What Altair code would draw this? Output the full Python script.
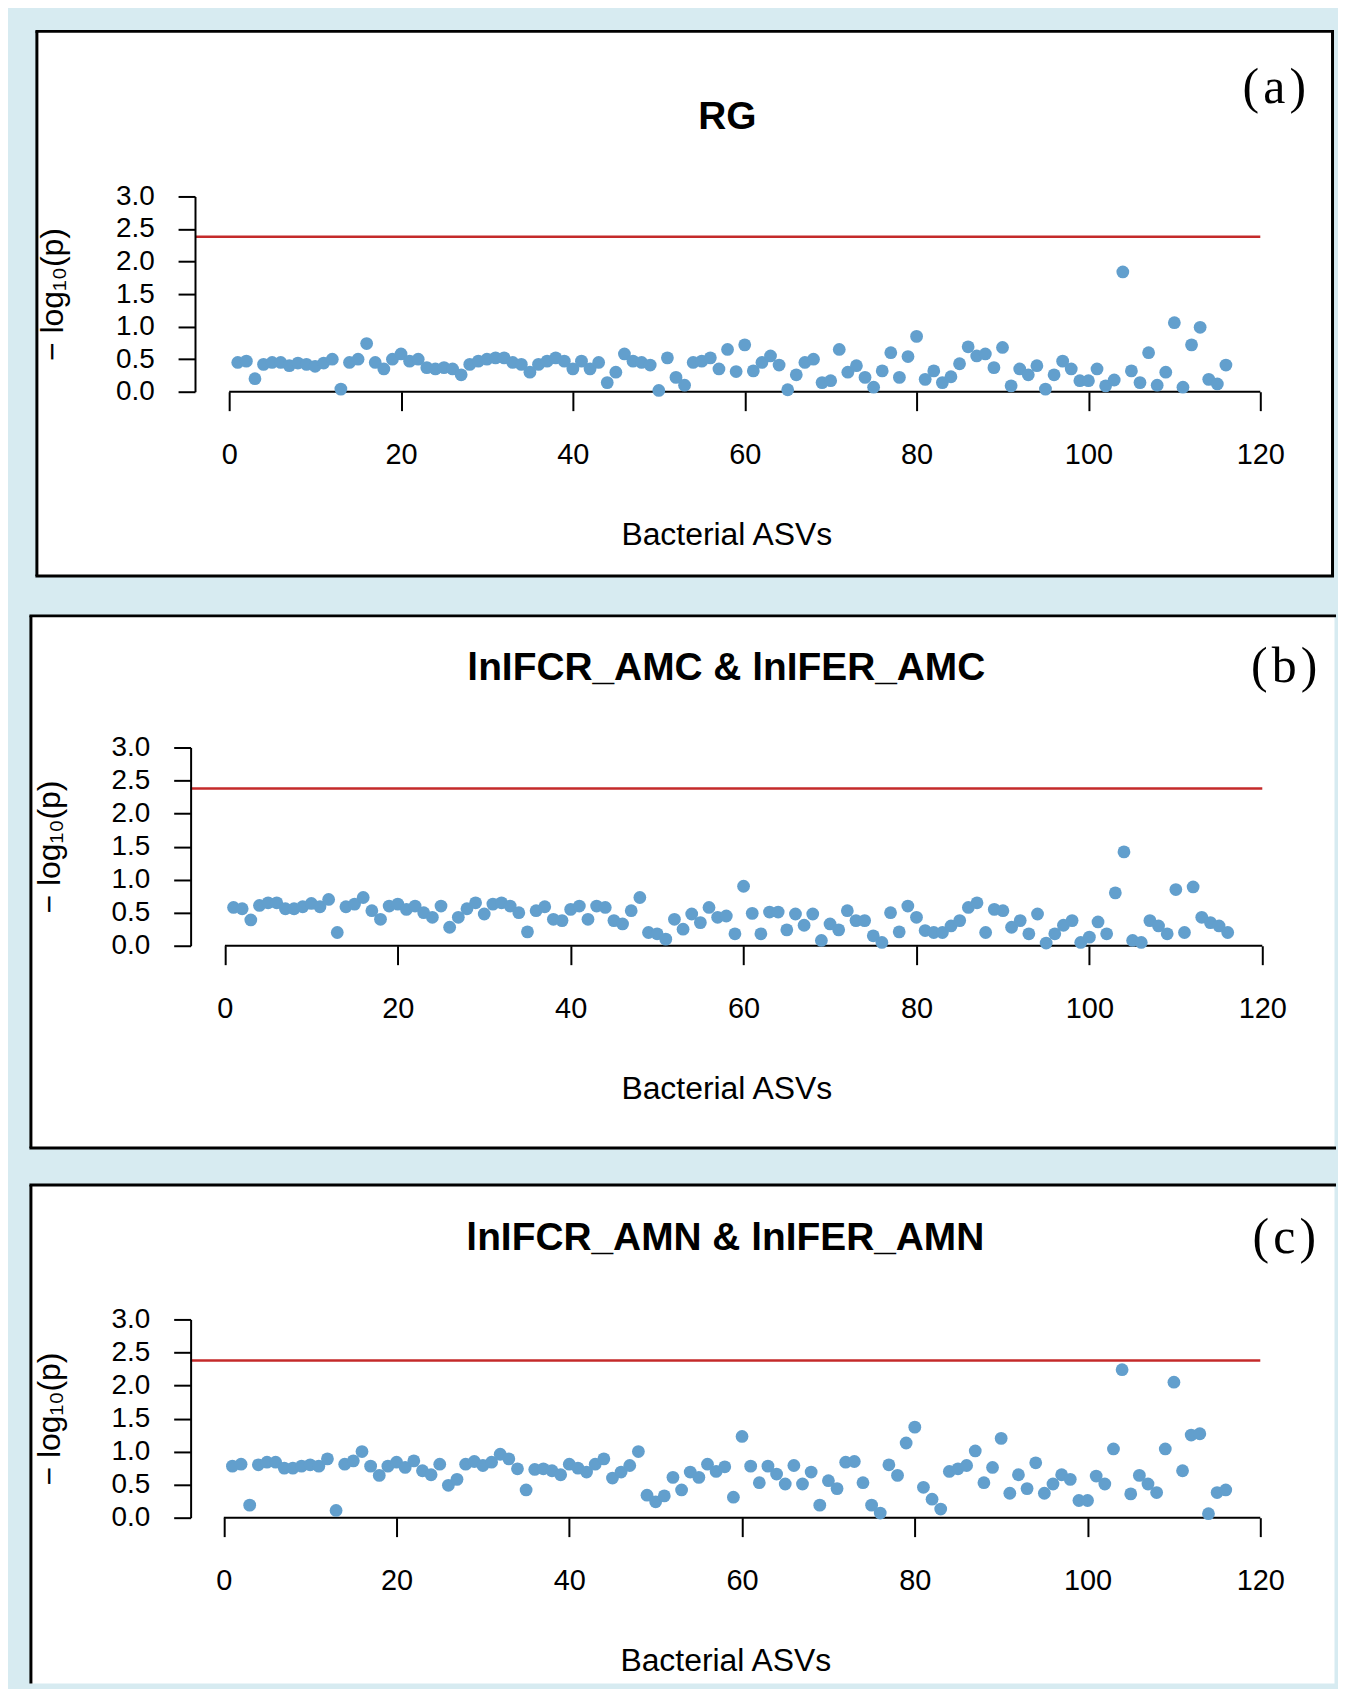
import altair as alt
import pandas as pd

# ---------------- data ----------------
asv_index = list(range(1, 117))

rg_values = [0.45, 0.47, 0.20, 0.42, 0.45, 0.45, 0.40, 0.44, 0.42, 0.39,
             0.44, 0.50, 0.04, 0.45, 0.50, 0.74, 0.45, 0.35, 0.50, 0.58,
             0.47, 0.50, 0.37, 0.35, 0.37, 0.35, 0.26, 0.42, 0.47, 0.50,
             0.52, 0.52, 0.45, 0.42, 0.30, 0.42, 0.47, 0.52, 0.47, 0.35,
             0.47, 0.35, 0.45, 0.14, 0.30, 0.58, 0.47, 0.45, 0.41, 0.02,
             0.52, 0.22, 0.10, 0.45, 0.47, 0.52, 0.35, 0.65, 0.31, 0.72,
             0.32, 0.45, 0.55, 0.41, 0.03, 0.26, 0.45, 0.50, 0.14, 0.17,
             0.65, 0.30, 0.40, 0.22, 0.07, 0.32, 0.60, 0.22, 0.54, 0.85,
             0.19, 0.32, 0.14, 0.23, 0.43, 0.69, 0.55, 0.58, 0.37, 0.68,
             0.09, 0.35, 0.26, 0.40, 0.04, 0.26, 0.47, 0.35, 0.17, 0.17,
             0.35, 0.09, 0.18, 1.84, 0.32, 0.14, 0.60, 0.10, 0.30, 1.06,
             0.07, 0.72, 0.99, 0.19, 0.12, 0.41]

amc_values = [0.58, 0.56, 0.39, 0.61, 0.65, 0.65, 0.56, 0.56, 0.59, 0.64,
              0.59, 0.70, 0.20, 0.59, 0.63, 0.73, 0.53, 0.40, 0.60, 0.63,
              0.55, 0.60, 0.50, 0.43, 0.60, 0.28, 0.43, 0.56, 0.65, 0.48,
              0.63, 0.65, 0.60, 0.50, 0.21, 0.53, 0.59, 0.40, 0.38, 0.55,
              0.60, 0.40, 0.60, 0.58, 0.38, 0.33, 0.53, 0.73, 0.20, 0.18,
              0.10, 0.40, 0.25, 0.48, 0.35, 0.58, 0.43, 0.45, 0.18, 0.90,
              0.49, 0.18, 0.51, 0.51, 0.24, 0.48, 0.31, 0.48, 0.08, 0.33,
              0.24, 0.53, 0.38, 0.38, 0.15, 0.05, 0.50, 0.21, 0.60, 0.43,
              0.23, 0.20, 0.20, 0.30, 0.38, 0.58, 0.65, 0.20, 0.55, 0.53,
              0.28, 0.38, 0.18, 0.48, 0.04, 0.18, 0.31, 0.38, 0.05, 0.13,
              0.36, 0.18, 0.80, 1.42, 0.08, 0.05, 0.38, 0.30, 0.18, 0.85,
              0.20, 0.89, 0.43, 0.35, 0.30, 0.20]

amn_values = [0.78, 0.81, 0.19, 0.80, 0.84, 0.84, 0.75, 0.75, 0.78, 0.80,
              0.78, 0.89, 0.11, 0.81, 0.86, 1.00, 0.78, 0.64, 0.78, 0.84,
              0.76, 0.86, 0.71, 0.65, 0.81, 0.49, 0.58, 0.81, 0.85, 0.79,
              0.84, 0.96, 0.89, 0.74, 0.42, 0.73, 0.74, 0.71, 0.65, 0.81,
              0.75, 0.69, 0.81, 0.89, 0.60, 0.69, 0.79, 1.00, 0.34, 0.24,
              0.33, 0.61, 0.42, 0.69, 0.61, 0.81, 0.70, 0.77, 0.31, 1.23,
              0.78, 0.53, 0.78, 0.66, 0.51, 0.79, 0.51, 0.69, 0.19, 0.56,
              0.44, 0.84, 0.85, 0.53, 0.19, 0.07, 0.80, 0.64, 1.13, 1.37,
              0.46, 0.28, 0.13, 0.70, 0.74, 0.79, 1.01, 0.53, 0.76, 1.20,
              0.37, 0.65, 0.44, 0.83, 0.37, 0.51, 0.65, 0.58, 0.26, 0.26,
              0.63, 0.51, 1.04, 2.24, 0.36, 0.64, 0.51, 0.38, 1.04, 2.05,
              0.71, 1.25, 1.27, 0.06, 0.38, 0.42]

panel_titles = ["RG", "lnIFCR_AMC & lnIFER_AMC", "lnIFCR_AMN & lnIFER_AMN"]
panel_tags = ["(\u200aa\u200a)", "(\u200ab\u200a)", "(\u200ac\u200a)"]
x_title = "Bacterial ASVs"
y_title = "\u2212 log\u2081\u2080(p)"
threshold = 2.38
x_ticks = [0, 20, 40, 60, 80, 100, 120]
y_ticks = [0.0, 0.5, 1.0, 1.5, 2.0, 2.5, 3.0]

# ---------------- style ----------------
FONT = "Liberation Sans"
SERIF = "Liberation Serif"
DOT = "#629fcd"
RED = "#c42a2a"
BG = "#d7ebf1"
one = pd.DataFrame({"k": [0]})


def panel(values, title, tag, W, H, xr, yoff, ytx, box, borders, title_xy, tag_xy,
          xt_x, extend_bottom=None):
    df = pd.DataFrame({"asv": asv_index, "p": values})
    bx1, bx2, by1, by2 = box
    base1 = alt.Chart(one)

    layers = []
    if extend_bottom is not None:
        layers.append(base1.mark_rule(strokeOpacity=0, strokeWidth=1).encode(
            x=alt.value(0), y=alt.value(by2), y2=alt.value(by2 + extend_bottom)))
    # white figure box
    layers.append(base1.mark_rect(fill="white", stroke=None).encode(
        x=alt.value(bx1), x2=alt.value(bx2), y=alt.value(by1), y2=alt.value(by2)))
    bw = 3
    if "left" in borders:
        layers.append(base1.mark_rule(color="black", strokeWidth=bw).encode(
            x=alt.value(bx1), y=alt.value(by1), y2=alt.value(by2)))
    if "right" in borders:
        layers.append(base1.mark_rule(color="black", strokeWidth=bw).encode(
            x=alt.value(bx2), y=alt.value(by1), y2=alt.value(by2)))
    if "top" in borders:
        layers.append(base1.mark_rule(color="black", strokeWidth=bw).encode(
            y=alt.value(by1), x=alt.value(bx1 - 1.5), x2=alt.value(bx2 + 1.5)))
    if "bottom" in borders:
        layers.append(base1.mark_rule(color="black", strokeWidth=bw).encode(
            y=alt.value(by2), x=alt.value(bx1 - 1.5), x2=alt.value(bx2 + 1.5)))

    # x axis base line (drawn below the points)
    layers.append(base1.mark_rule(color="black", strokeWidth=2).encode(
        x=alt.datum(0), x2=alt.datum(120), y=alt.datum(0)))

    xaxis = alt.Axis(values=x_ticks, format="d", domain=False, grid=False,
                     tickSize=19, tickWidth=2, tickColor="black",
                     labelFont=FONT, labelFontSize=29, labelColor="black",
                     labelBaseline="middle", labelPadding=44,
                     labelFlush=False, labelOverlap=False,
                     title=x_title, titleFont=FONT, titleFontSize=32,
                     titleFontWeight="normal", titleColor="black",
                     titleX=xt_x, titleY=143, titleBaseline="middle",
                     titleAlign="center", zindex=1)
    yaxis = alt.Axis(values=y_ticks, tickCount=len(y_ticks), format=".1f", domain=True,
                     domainColor="black", domainWidth=2, grid=False,
                     tickSize=17, tickWidth=2, tickColor="black",
                     labelFont=FONT, labelFontSize=28, labelColor="black",
                     labelPadding=24, labelFlush=False, labelOverlap=False,
                     offset=yoff,
                     title=y_title, titleFont=FONT, titleFontSize=32,
                     titleFontWeight="normal", titleColor="black",
                     titleX=ytx, titleY=H / 2, titleAngle=270,
                     titleBaseline="middle", titleAlign="center", zindex=1)

    layers.append(alt.Chart(df).mark_circle(size=165, color=DOT, opacity=1).encode(
        x=alt.X("asv:Q", scale=alt.Scale(domain=[0, 120], range=list(xr), nice=False, zero=False),
                axis=xaxis),
        y=alt.Y("p:Q", scale=alt.Scale(domain=[0, 3], nice=False, zero=False), axis=yaxis),
    ))

    layers.append(base1.mark_rule(color=RED, strokeWidth=2.5).encode(
        x=alt.value(-yoff), x2=alt.value(xr[1]), y=alt.datum(threshold)))

    layers.append(base1.mark_text(text=title, font=FONT, fontSize=39, fontWeight="bold",
                                  color="black", align="center", baseline="middle").encode(
        x=alt.value(title_xy[0]), y=alt.value(title_xy[1])))
    layers.append(base1.mark_text(text=tag, font=SERIF, fontSize=50, color="black",
                                  align="center", baseline="middle").encode(
        x=alt.value(tag_xy[0]), y=alt.value(tag_xy[1])))

    return alt.layer(*layers).properties(width=W, height=H)


pa = panel(rg_values, panel_titles[0], panel_tags[0], 1035, 196, (0, 1035), 34.3, -143,
           box=(-193, 1107.5, -165.7, 380.9),
           borders=("left", "right", "top", "bottom"),
           title_xy=(500, -79.5), tag_xy=(1049, -108.8), xt_x=499, extend_bottom=4.8)
pb = panel(amc_values, panel_titles[1], panel_tags[1], 1037, 199, (-4.3, 1037), 38.7, -142,
           box=(-199, 1109.5, -132.1, 402.1),
           borders=("left", "top", "bottom"),
           title_xy=(499, -80.2), tag_xy=(1059, -80.9), xt_x=499)
pc = panel(amn_values, panel_titles[2], panel_tags[2], 1035, 199, (-5.4, 1035), 38.7, -142,
           box=(-199, 1109.5, -135, 365.5),
           borders=("left", "top"),
           title_xy=(498, -82), tag_xy=(1059, -82), xt_x=498)

chart = alt.vconcat(pa, pb, pc, spacing=33.1).properties(
    background=BG,
    padding={"left": 20, "top": 18, "right": 0, "bottom": 0},
).configure_view(stroke=None)

chart.save("out.html", embed_options={"renderer": "svg", "actions": False})
